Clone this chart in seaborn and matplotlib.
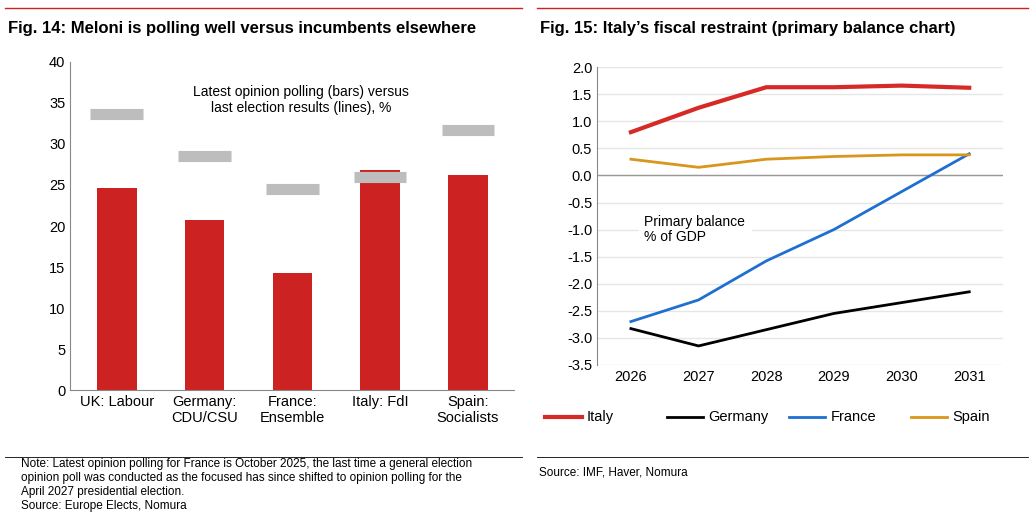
import numpy as np
import pandas as pd
import matplotlib.pyplot as plt
import seaborn as sns

# ==============================================================================
# 1. DATOS
# ==============================================================================
sondeos = pd.DataFrame({
    "pais": ["UK: Labour", "Germany:\nCDU/CSU", "France:\nEnsemble", "Italy: FdI", "Spain:\nSocialists"],
    "encuesta": [24.6, 20.7, 14.3, 26.8, 26.2],
    "eleccion": [33.7, 28.5, 24.5, 26.0, 31.7],
})

balance = pd.DataFrame({
    "anio": [2026, 2027, 2028, 2029, 2030, 2031] * 4,
    "pais": ["Italy"] * 6 + ["Germany"] * 6 + ["France"] * 6 + ["Spain"] * 6,
    "valor": [0.80, 1.25, 1.63, 1.63, 1.66, 1.62,
              -2.83, -3.15, -2.85, -2.55, -2.35, -2.15,
              -2.70, -2.30, -1.58, -1.00, -0.30, 0.40,
              0.30, 0.15, 0.30, 0.35, 0.38, 0.38],
})
colores = {"Italy": "#d62a26", "Germany": "#000000", "France": "#1f6fd0", "Spain": "#d9961c"}
rojo = "#cc2222"

plt.rcParams["font.family"] = ["Liberation Sans", "DejaVu Sans"]
fig = plt.figure(figsize=(10.33, 5.25), dpi=100)

# Títulos y líneas rojas
fig.add_artist(plt.Line2D([0.005, 0.505], [0.985, 0.985], color=rojo, lw=1))
fig.add_artist(plt.Line2D([0.52, 0.995], [0.985, 0.985], color=rojo, lw=1))
fig.text(0.008, 0.945, "Fig. 14: Meloni is polling well versus incumbents elsewhere", fontsize=12, weight="bold", va="center")
fig.text(0.523, 0.945, "Fig. 15: Italy\u2019s fiscal restraint (primary balance chart)", fontsize=12, weight="bold", va="center")

# ==============================================================================
# 2. GRÁFICO IZQUIERDO: barras
# ==============================================================================
ax1 = fig.add_axes([0.068, 0.257, 0.43, 0.625])
sns.barplot(data=sondeos, x="pais", y="encuesta", color=rojo, width=0.45, saturation=1, ax=ax1)
for i, v in enumerate(sondeos["eleccion"]):
    ax1.hlines(v, i - 0.3, i + 0.3, color="#bdbdbd", lw=8, zorder=3)
ax1.set_ylim(0, 40)
ax1.set_yticks(range(0, 41, 5))
ax1.set_xlabel("")
ax1.set_ylabel("")
ax1.text(0.52, 0.93, "Latest opinion polling (bars) versus\nlast election results (lines), %",
         transform=ax1.transAxes, ha="center", va="top", fontsize=10)
for s in ["top", "right"]:
    ax1.spines[s].set_visible(False)
ax1.spines["left"].set_color("#888888")
ax1.spines["bottom"].set_color("#888888")
ax1.tick_params(length=0, labelsize=10.5)

fig.add_artist(plt.Line2D([0.005, 0.505], [0.13, 0.13], color="black", lw=0.6))
fig.text(0.02, 0.025, "Note: Latest opinion polling for France is October 2025, the last time a general election\n"
         "opinion poll was conducted as the focused has since shifted to opinion polling for the\n"
         "April 2027 presidential election.\nSource: Europe Elects, Nomura", fontsize=8.5, va="bottom")

# ==============================================================================
# 3. GRÁFICO DERECHO: líneas
# ==============================================================================
ax2 = fig.add_axes([0.578, 0.305, 0.393, 0.567])
ax2.set_axisbelow(True)
ax2.grid(axis="y", color="#e6e6e6", lw=1)
ax2.axhline(0, color="#999999", lw=1)
sns.lineplot(data=balance, x="anio", y="valor", hue="pais", palette=colores, lw=2, ax=ax2, legend=False)
ax2.lines[-4].set_linewidth(3)  # Italia más gruesa
ax2.set_ylim(-3.5, 2.0)
ax2.set_yticks(np.arange(-3.5, 2.01, 0.5))
ax2.yaxis.set_major_formatter(plt.FuncFormatter(lambda v, p: f"{v:.1f}"))
ax2.set_xlim(2025.5, 2031.5)
ax2.set_xlabel("")
ax2.set_ylabel("")
ax2.text(2026.2, -1.0, "Primary balance\n% of GDP", ha="left", va="center", fontsize=10,
         backgroundcolor="white", linespacing=1.1)
for s in ["top", "right", "bottom"]:
    ax2.spines[s].set_visible(False)
ax2.spines["left"].set_color("#888888")
ax2.tick_params(length=0, labelsize=10.5)

# Leyenda manual
for j, (nombre, col) in enumerate(colores.items()):
    x0 = 0.528 + j * 0.118
    fig.add_artist(plt.Line2D([x0, x0 + 0.035], [0.205, 0.205], color=col, lw=3 if nombre == "Italy" else 2))
    fig.text(x0 + 0.04, 0.205, nombre, fontsize=10.5, va="center")

fig.add_artist(plt.Line2D([0.52, 0.995], [0.13, 0.13], color="black", lw=0.6))
fig.text(0.522, 0.1, "Source: IMF, Haver, Nomura", fontsize=8.5, va="center")

plt.savefig("out.png", dpi=100)
plt.close()
